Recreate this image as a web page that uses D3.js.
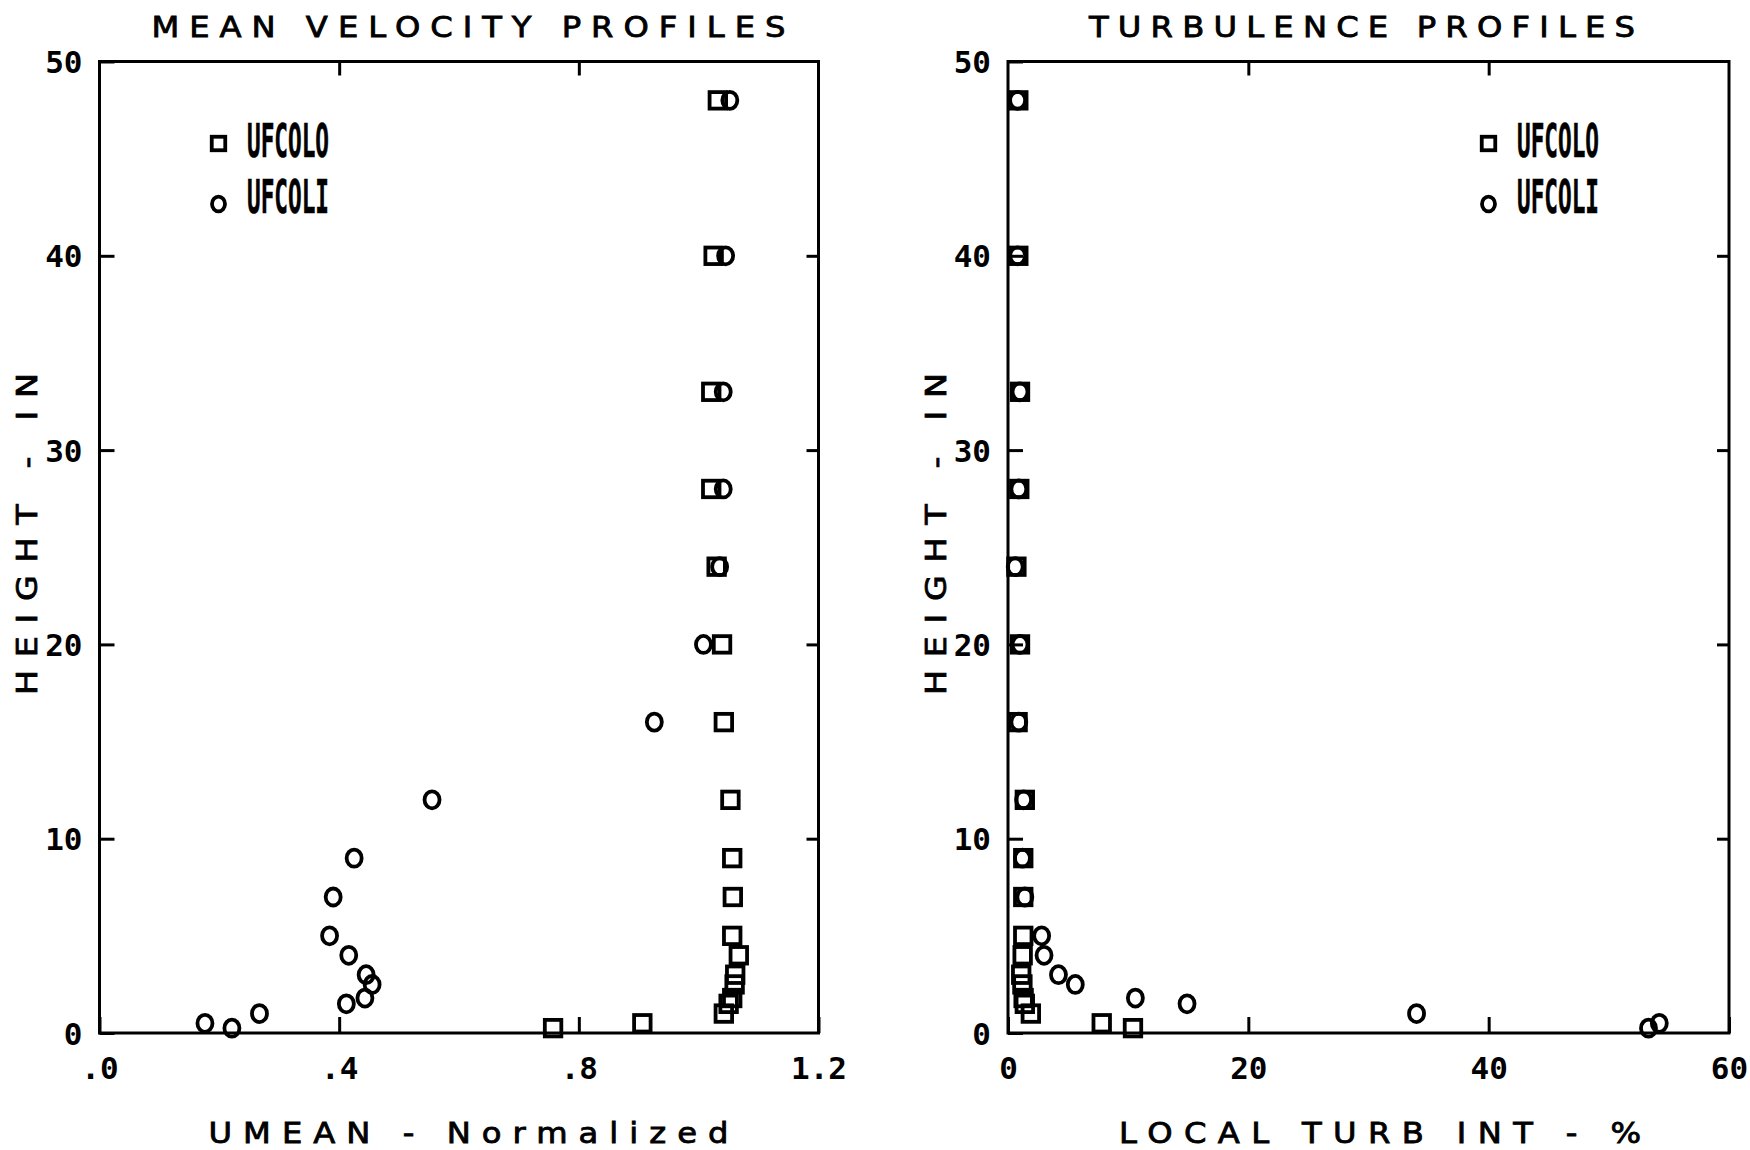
<!DOCTYPE html>
<html>
<head>
<meta charset="utf-8">
<script src="https://cdn.jsdelivr.net/npm/d3@7"></script>
<style>
  html, body { margin: 0; padding: 0; background: #fff; }
  svg { display: block; }
</style>
</head>
<body>
<svg id="chart" width="1750" height="1150"></svg>
<script>
// ---------------- DATA ----------------
const heights      = [0.25, 0.5, 1, 1.5, 1.8, 2.5, 3, 4, 5, 7, 9, 12, 16, 20, 24, 28, 33, 40, 48];
const umeanUFCOLO  = [0.757, 0.906, 1.042, 1.050, 1.056, 1.060, 1.061, 1.067, 1.056, 1.057, 1.056, 1.053, 1.042, 1.039, 1.030, 1.021, 1.021, 1.025, 1.032];
const umeanUFCOLI  = [0.221, 0.176, 0.267, 0.412, 0.443, 0.455, 0.445, 0.416, 0.384, 0.390, 0.425, 0.555, 0.926, 1.008, 1.035, 1.041, 1.041, 1.045, 1.052];
const turbUFCOLO   = [10.4, 7.8, 1.9, 1.4, 1.3, 1.2, 1.1, 1.22, 1.27, 1.27, 1.27, 1.4, 0.8, 1.0, 0.7, 0.94, 1.0, 0.86, 0.86];
const turbUFCOLI   = [53.3, 54.2, 34.0, 14.9, 10.6, 5.6, 4.2, 3.0, 2.8, 1.4, 1.2, 1.3, 0.9, 1.0, 0.6, 0.9, 1.0, 0.8, 0.8];

const seriesNames  = ["UFCOLO", "UFCOLI"];
const yTicks       = [0, 10, 20, 30, 40, 50];
const yTickLabels  = ["0", "10", "20", "30", "40", "50"];
const umeanTicks   = [0, 0.4, 0.8, 1.2];
const umeanLabels  = [".0", ".4", ".8", "1.2"];
const turbTicks    = [0, 20, 40, 60];
const turbLabels   = ["0", "20", "40", "60"];

const titles   = ["MEAN VELOCITY PROFILES", "TURBULENCE PROFILES"];
const xTitles  = ["UMEAN - Normalized", "LOCAL TURB INT - %"];
const yTitle   = "HEIGHT - IN";

// ---------------- LAYOUT ----------------
const svg = d3.select("#chart");
const MONO = "'DejaVu Sans Mono', monospace";
const SANS = "'DejaVu Sans', sans-serif";
const STRETCH = 1.15;

const panels = [
  { x0: 99.5, x1: 818.5, domain: [0, 1.2], ticks: umeanTicks, labels: umeanLabels,
    sq: umeanUFCOLO, ci: umeanUFCOLI, title: titles[0], xTitle: xTitles[0],
    titleX: 468.5, titleW: 634, xTitleX: 468.5, xTitleW: 520, yTitleX: 37,
    legX: 218.5 },
  { x0: 1008, x1: 1729, domain: [0, 60], ticks: turbTicks, labels: turbLabels,
    sq: turbUFCOLO, ci: turbUFCOLI, title: titles[1], xTitle: xTitles[1],
    titleX: 1362, titleW: 546, xTitleX: 1380, xTitleW: 522, yTitleX: 946,
    legX: 1488.5 }
];
const yBottom = 1033, yTop = 61.5;

function stretchedText(g, cx, by, width, size, txt, rotate) {
  const tf = rotate
    ? `translate(${cx},${by}) rotate(-90) scale(${STRETCH},1)`
    : `translate(${cx},${by}) scale(${STRETCH},1)`;
  g.append("text")
    .attr("transform", tf)
    .attr("text-anchor", "middle")
    .attr("textLength", width / STRETCH).attr("lengthAdjust", "spacing")
    .style("font-family", SANS).style("font-size", size + "px")
    .attr("fill", "#000").attr("stroke", "#000").attr("stroke-width", 0.8)
    .text(txt);
}

panels.forEach(p => {
  const x = d3.scaleLinear().domain(p.domain).range([p.x0, p.x1]);
  const y = d3.scaleLinear().domain([0, 50]).range([yBottom, yTop]);
  const g = svg.append("g");

  const yl = g.append("g").attr("transform", `translate(${p.x0},0)`)
    .call(d3.axisLeft(y).tickValues(yTicks).tickSize(-15).tickPadding(17)
      .tickFormat((d, i) => yTickLabels[i]));
  const yr = g.append("g").attr("transform", `translate(${p.x1},0)`)
    .call(d3.axisRight(y).tickValues(yTicks.slice(1, -1)).tickSize(-12).tickFormat(""));
  const xb = g.append("g").attr("transform", `translate(0,${yBottom})`)
    .call(d3.axisBottom(x).tickValues(p.ticks).tickSize(-16).tickPadding(24)
      .tickFormat((d, i) => p.labels[i]));
  const xt = g.append("g").attr("transform", `translate(0,${yTop})`)
    .call(d3.axisTop(x).tickValues(p.ticks.slice(1, -1)).tickSize(-14).tickFormat(""));

  [yl, yr, xb, xt].forEach(a => {
    a.select(".domain").remove();
    a.selectAll(".tick line").attr("stroke", "#000").attr("stroke-width", 3);
    a.selectAll(".tick text").attr("fill", "#000")
      .style("font-family", MONO).style("font-weight", "bold").style("font-size", "31px");
  });
  yl.selectAll(".tick text").attr("dy", "0.36em");

  g.append("rect")
    .attr("x", p.x0).attr("y", yTop)
    .attr("width", p.x1 - p.x0).attr("height", yBottom - yTop)
    .attr("fill", "none").attr("stroke", "#000").attr("stroke-width", 3);

  stretchedText(g, p.titleX, 37, p.titleW, 28, p.title, false);
  stretchedText(g, p.xTitleX, 1143, p.xTitleW, 28, p.xTitle, false);
  stretchedText(g, p.yTitleX, 534, 322, 29, yTitle, true);

  const S = 16.5;
  g.append("g").selectAll("rect").data(heights.map((h, i) => [p.sq[i], h]))
    .join("rect")
    .attr("x", d => x(d[0]) - S / 2).attr("y", d => y(d[1]) - S / 2)
    .attr("width", S).attr("height", S)
    .attr("fill", "none").attr("stroke", "#000").attr("stroke-width", 3.8);

  g.append("g").selectAll("ellipse").data(heights.map((h, i) => [p.ci[i], h]))
    .join("ellipse")
    .attr("cx", d => x(d[0])).attr("cy", d => y(d[1]))
    .attr("rx", 7.5).attr("ry", 8.5)
    .attr("fill", "none").attr("stroke", "#000").attr("stroke-width", 3.8);

  const lg = g.append("g");
  const LS = 13.5;
  lg.append("rect").attr("x", p.legX - LS / 2).attr("y", 143.5 - LS / 2)
    .attr("width", LS).attr("height", LS)
    .attr("fill", "none").attr("stroke", "#000").attr("stroke-width", 3.8);
  lg.append("ellipse").attr("cx", p.legX).attr("cy", 204)
    .attr("rx", 6.5).attr("ry", 7.3)
    .attr("fill", "none").attr("stroke", "#000").attr("stroke-width", 3.8);
  [[seriesNames[0], 157], [seriesNames[1], 213]].forEach(([t, by]) => {
    lg.append("text").attr("x", p.legX + 28.5).attr("y", by)
      .attr("textLength", 82).attr("lengthAdjust", "spacingAndGlyphs")
      .style("font-family", MONO).style("font-weight", "bold").style("font-size", "47px")
      .attr("fill", "#000").attr("stroke", "#000").attr("stroke-width", 0.6)
      .text(t);
  });
});
</script>
</body>
</html>
